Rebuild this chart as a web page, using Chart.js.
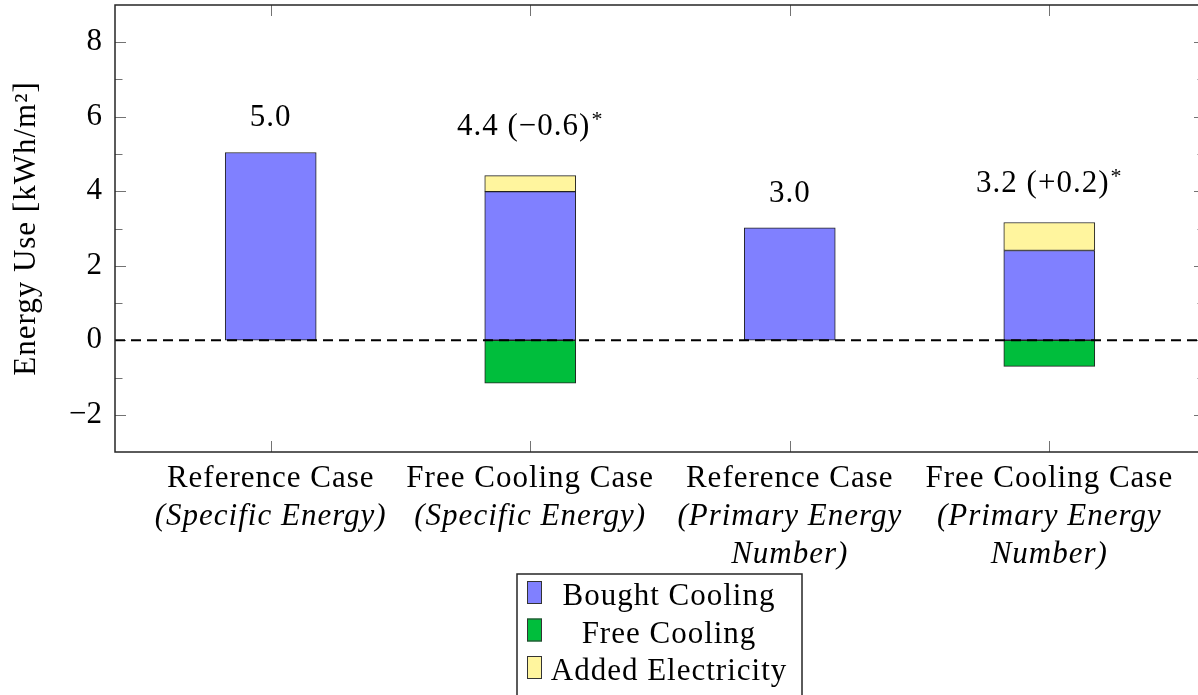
<!DOCTYPE html>
<html>
<head>
<meta charset="utf-8">
<script src="https://cdn.jsdelivr.net/npm/chart.js@4/dist/chart.umd.min.js"></script>
<style>
  html, body { margin: 0; padding: 0; overflow: hidden; background: #fff; }
  canvas { display: block; }
</style>
</head>
<body>
<canvas id="c" width="1212" height="695"></canvas>
<script>
// Cases along the x axis (upright first line, italic remaining lines)
const caseNames = ['Reference Case', 'Free Cooling Case', 'Reference Case', 'Free Cooling Case'];
const caseMeasures = [
  ['(Specific Energy)'],
  ['(Specific Energy)'],
  ['(Primary Energy', 'Number)'],
  ['(Primary Energy', 'Number)']
];

// Energy use per case [kWh/m²]
const boughtCooling    = [5.04, 3.99, 3.02, 2.41];
const freeCooling      = [null, -1.15, null, -0.70];
const addedElectricity = [null, 0.43, null, 0.75];

// Which reference case each free-cooling case is compared against
const comparedWith = [null, 0, null, 2];

// Labelled y ticks
const yTickLabels = [-2, 0, 2, 4, 6, 8];

const FONT = "'Liberation Serif', 'Times New Roman', serif";
const FS = 31;
const SPACING = '1px';

const toPoints = arr => arr.map((y, i) => ({ x: i, y })).filter(p => p.y !== null);
const round1 = v => Math.round(v * 10) / 10;
const fmtNum = v => {
  const s = Math.abs(v).toFixed(1);
  return v < 0 ? '\u2212' + s : s;
};

const totals = boughtCooling.map((b, i) => b + (addedElectricity[i] || 0));

const decorations = {
  id: 'decorations',
  beforeDraw(chart) {
    const ctx = chart.ctx;
    ctx.save();
    ctx.fillStyle = '#fff';
    ctx.fillRect(0, 0, chart.width, chart.height);
    ctx.restore();
  },
  afterDatasetsDraw(chart) {
    const { ctx, chartArea: a, scales: { y } } = chart;
    const y0 = y.getPixelForValue(0);
    ctx.save();
    ctx.setLineDash([10, 6]);
    ctx.lineWidth = 2;
    ctx.strokeStyle = '#000';
    ctx.beginPath();
    ctx.moveTo(a.left, y0);
    ctx.lineTo(a.right, y0);
    ctx.stroke();
    ctx.restore();
  },
  afterDraw(chart, args, opts) {
    const { ctx, chartArea: a, scales: { x, y } } = chart;
    ctx.save();

    // inward tick marks on all four sides
    ctx.strokeStyle = 'rgba(0,0,0,0.55)';
    ctx.lineWidth = 1;
    ctx.beginPath();
    y.ticks.forEach(t => {
      const v = t.value;
      if (v <= y.min || v >= y.max) return;
      const len = yTickLabels.includes(v) ? 11 : 7.5;
      const py = Math.round(y.getPixelForValue(v)) + 0.5;
      ctx.moveTo(a.left, py); ctx.lineTo(a.left + len, py);
      ctx.moveTo(a.right, py); ctx.lineTo(a.right - len, py);
    });
    x.ticks.forEach(t => {
      const px = Math.round(x.getPixelForValue(t.value)) + 0.5;
      ctx.moveTo(px, a.bottom); ctx.lineTo(px, a.bottom - 11);
      ctx.moveTo(px, a.top); ctx.lineTo(px, a.top + 11);
    });
    ctx.stroke();

    // axis frame
    ctx.strokeStyle = '#262626';
    ctx.lineWidth = 1.5;
    ctx.strokeRect(a.left, a.top, a.right - a.left, a.bottom - a.top);

    ctx.letterSpacing = SPACING;

    // y axis title
    ctx.save();
    ctx.translate(27, (a.top + a.bottom) / 2);
    ctx.rotate(-Math.PI / 2);
    ctx.fillStyle = '#000';
    ctx.font = `${FS}px ${FONT}`;
    ctx.textAlign = 'center';
    ctx.textBaseline = 'middle';
    ctx.fillText(opts.yTitle, 0, 0);
    ctx.restore();

    // category labels
    ctx.fillStyle = '#000';
    ctx.textAlign = 'center';
    ctx.textBaseline = 'alphabetic';
    caseNames.forEach((name, i) => {
      const px = x.getPixelForValue(i);
      ctx.font = `${FS}px ${FONT}`;
      ctx.fillText(name, px, a.bottom + 35);
      ctx.font = `italic ${FS}px ${FONT}`;
      caseMeasures[i].forEach((line, j) => {
        ctx.fillText(line, px, a.bottom + 73 + j * 38);
      });
    });

    // value labels above the bars
    totals.forEach((tot, i) => {
      const r = round1(tot);
      let main = fmtNum(r);
      let star = '';
      if (comparedWith[i] !== null) {
        const d = round1(r - round1(totals[comparedWith[i]]));
        main += ' (' + (d < 0 ? '\u2212' : '+') + Math.abs(d).toFixed(1) + ')';
        star = '*';
      }
      const px = x.getPixelForValue(i);
      const py = y.getPixelForValue(opts.labelBaselines[i]);
      ctx.font = `${FS}px ${FONT}`;
      const wMain = ctx.measureText(main).width;
      ctx.font = `${Math.round(FS * 0.72)}px ${FONT}`;
      const wStar = star ? ctx.measureText(star).width + 1 : 0;
      const x0 = px - (wMain + wStar) / 2;
      ctx.textAlign = 'left';
      ctx.font = `${FS}px ${FONT}`;
      ctx.fillText(main, x0, py);
      if (star) {
        ctx.font = `${Math.round(FS * 0.72)}px ${FONT}`;
        ctx.fillText(star, x0 + wMain + 1, py - 9);
      }
    });

    // legend box below the axis
    const cx = (a.left + a.right) / 2;
    const bx = cx - 143, bw = 285, by = a.bottom + 122, bh = 140;
    ctx.fillStyle = '#fff';
    ctx.fillRect(bx, by, bw, bh);
    ctx.strokeStyle = '#262626';
    ctx.lineWidth = 1.5;
    ctx.strokeRect(bx, by, bw, bh);
    ctx.font = `${FS}px ${FONT}`;
    ctx.textAlign = 'center';
    chart.data.datasets.forEach((ds, k) => {
      const top = by + 7 + k * 37.5;
      ctx.fillStyle = ds.backgroundColor;
      ctx.fillRect(bx + 10, top, 15, 23);
      ctx.strokeStyle = '#333';
      ctx.lineWidth = 1;
      ctx.strokeRect(bx + 10.5, top + 0.5, 14, 22);
      ctx.fillStyle = '#000';
      ctx.fillText(ds.label, bx + 152, top + 24);
    });

    ctx.restore();
  }
};

new Chart(document.getElementById('c'), {
  type: 'bar',
  data: {
    datasets: [
      { label: 'Bought Cooling',    data: toPoints(boughtCooling),    backgroundColor: '#8080ff' },
      { label: 'Free Cooling',      data: toPoints(freeCooling),      backgroundColor: '#00be3c' },
      { label: 'Added Electricity', data: toPoints(addedElectricity), backgroundColor: '#fff59e' }
    ]
  },
  options: {
    responsive: false,
    animation: false,
    devicePixelRatio: 1,
    layout: { padding: { top: 5, right: 7, left: 0, bottom: 0 } },
    datasets: {
      bar: { barThickness: 91, borderColor: '#222', borderWidth: 1, borderSkipped: false }
    },
    plugins: {
      legend: { display: false },
      tooltip: { enabled: false },
      decorations: {
        labelBaselines: [5.75, 5.5, 3.72, 3.98],
        yTitle: 'Energy Use [kWh/m\u00b2]'
      }
    },
    scales: {
      x: {
        type: 'linear',
        stacked: true,
        offset: false,
        min: -0.6,
        max: 3.6,
        afterBuildTicks: s => { s.ticks = caseNames.map((_, i) => ({ value: i })); },
        ticks: { display: false },
        grid: { display: false, drawTicks: false },
        border: { display: false },
        afterFit: s => { s.height = 243; s.paddingLeft = 0; s.paddingRight = 0; }
      },
      y: {
        stacked: true,
        min: -3,
        max: 9,
        ticks: {
          stepSize: 1,
          autoSkip: false,
          padding: 13,
          color: '#000',
          font: { family: FONT, size: FS },
          callback: v => yTickLabels.includes(v) ? fmtNum(v).replace('.0', '') : ''
        },
        grid: { display: false, drawTicks: false },
        border: { display: false },
        title: { display: false },
        afterFit: s => { s.width = 115; s.paddingTop = 0; s.paddingBottom = 0; }
      }
    }
  },
  plugins: [decorations]
});
</script>
</body>
</html>
